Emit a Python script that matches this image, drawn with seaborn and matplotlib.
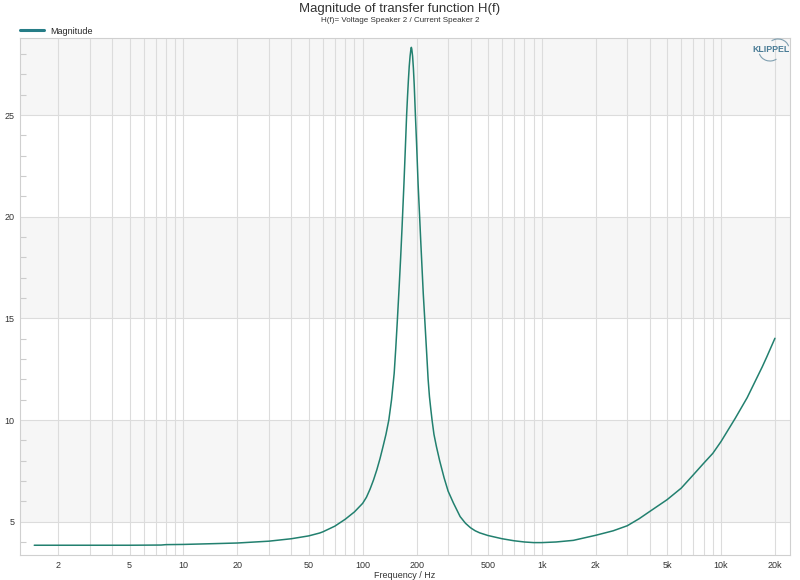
import numpy as np
import pandas as pd
import matplotlib
matplotlib.use("Agg")
import matplotlib.pyplot as plt
from matplotlib.lines import Line2D
from matplotlib.patches import Arc
from matplotlib.ticker import FixedLocator, NullFormatter, MultipleLocator
import seaborn as sns

# ---- data ----
freq_hz = [1.47, 2, 3, 5, 7.5, 8, 10, 15, 20, 30, 40, 50, 57.5, 60, 70, 80, 90,
           100, 105, 110, 115, 120, 125, 130, 135, 140, 145, 150, 153, 156, 160,
           163, 166, 170, 173, 176, 178, 180, 182, 184, 186, 187, 188, 190, 192,
           194, 197, 200, 204, 208, 211, 215, 218, 222, 228, 232, 236, 240, 244,
           250, 258, 269, 285, 300, 321, 350, 375, 400, 425, 450, 500, 600, 700,
           800, 900, 1000, 1200, 1500, 2000, 2500, 3000, 3500, 4000, 5000, 6000,
           7000, 8000, 9000, 10000, 12000, 14000, 15000, 17000, 18000, 20000]
magnitude = [3.84, 3.84, 3.84, 3.84, 3.85, 3.87, 3.88, 3.92, 3.95, 4.04, 4.16,
             4.30, 4.44, 4.50, 4.78, 5.12, 5.48,
             5.90, 6.20, 6.60, 7.05, 7.55, 8.10, 8.70, 9.30, 10.0, 11.0, 12.3, 13.5,
             14.8, 16.6, 18.0, 19.5, 21.6, 23.3, 25.0, 25.9, 26.7, 27.4, 27.9,
             28.25, 28.33, 28.25, 27.9, 27.3, 26.5, 25.0, 23.6, 21.6, 20.0, 18.8,
             17.3, 16.2, 15.0, 13.2, 12.0, 11.15, 10.55, 10.0, 9.3, 8.7, 8.0, 7.15,
             6.50, 5.92, 5.25, 4.92, 4.70, 4.55, 4.45, 4.32, 4.16, 4.06, 4.00,
             3.97, 3.97, 4.00, 4.08, 4.33, 4.55, 4.80, 5.15, 5.50, 6.08, 6.65,
             7.30, 7.87, 8.36, 8.94, 10.08, 11.10, 11.64, 12.62, 13.10, 14.02]
xtick_values = [2, 5, 10, 20, 50, 100, 200, 500, 1000, 2000, 5000, 10000, 20000]
xtick_labels = ["2", "5", "10", "20", "50", "100", "200", "500", "1k", "2k", "5k", "10k", "20k"]
ytick_values = [5, 10, 15, 20, 25]
series_name = "Magnitude"

df = pd.DataFrame({"Frequency": freq_hz, "Magnitude": magnitude})

sns.set_theme(style="white")
plt.rcParams["font.family"] = ["Liberation Sans", "DejaVu Sans"]

fig = plt.figure(figsize=(8, 5.8), dpi=100)
ax = fig.add_axes([20 / 800, 1 - 555 / 580, 770 / 800, 517 / 580])

line_color = "#22806f"
ymin, ymax = 3.36, 28.79
ax.set_xscale("log")
ax.set_xlim(1.224, 24270)
ax.set_ylim(ymin, ymax)

# alternating background bands
band_edges = [ymin] + ytick_values + [ymax]
for i in range(len(band_edges) - 1):
    if i % 2 == 1:
        ax.axhspan(band_edges[i], band_edges[i + 1], color="#f6f6f6", zorder=0, lw=0)

sns.lineplot(data=df, x="Frequency", y="Magnitude", ax=ax, color=line_color,
             linewidth=1.1, zorder=3, legend=False)

# grid
minor = []
for dec in [1, 10, 100, 1000, 10000]:
    for m in range(1, 10):
        v = m * dec
        if 1.224 < v < 24270:
            minor.append(v)
ax.xaxis.set_major_locator(FixedLocator(xtick_values))
ax.xaxis.set_minor_locator(FixedLocator(minor))
ax.set_xticklabels(xtick_labels)
ax.xaxis.set_minor_formatter(NullFormatter())
ax.grid(which="both", axis="x", color="#dcdcdc", lw=0.8, zorder=1)
ax.yaxis.set_major_locator(FixedLocator(ytick_values))
ax.yaxis.set_minor_locator(MultipleLocator(1))
ax.grid(which="major", axis="y", color="#dcdcdc", lw=0.8, zorder=1)
ax.set_axisbelow(True)

ax.tick_params(axis="x", which="major", labelsize=6.5, colors="#333333", length=0, pad=4)
ax.tick_params(axis="x", which="minor", length=0)
ax.tick_params(axis="y", which="major", labelsize=6.5, colors="#333333", length=0, pad=4)
ax.tick_params(axis="y", which="minor", length=4, direction="in", color="#cccccc", width=0.8, left=True)
ax.tick_params(axis="y", which="major", left=True)

for s in ax.spines.values():
    s.set_color("#d0d0d0")
    s.set_linewidth(0.8)

ax.set_xlabel("Frequency / Hz", fontsize=6.5, color="#333333", labelpad=1)
ax.set_ylabel("")

fig.text(0.5, 1 - 9 / 580, "Magnitude of transfer function H(f)", ha="center", va="center",
         fontsize=9.5, color="#333333")
fig.text(0.5, 1 - 21 / 580, "H(f)= Voltage Speaker 2 / Current Speaker 2", ha="center",
         va="center", fontsize=5.8, color="#333333")

handle = Line2D([0], [0], color="#267d87", lw=2.2)
fig.legend([handle], [series_name], loc="center left", bbox_to_anchor=(20 / 800, 1 - 31 / 580),
           frameon=False, fontsize=6.5, handlelength=2.7, handletextpad=0.6,
           borderaxespad=0, borderpad=0)

fig.text(771 / 800, 1 - 50 / 580, "KLIPPEL", ha="center", va="center", fontsize=6.3,
         color="#4a7c96", fontweight="bold")
fig.add_artist(Arc((778 / 800, 1 - 49 / 580), 22 / 800, 20 / 580, theta1=20, theta2=120,
                   color="#7f9fb0", lw=0.8, transform=fig.transFigure))
fig.add_artist(Arc((770 / 800, 1 - 51 / 580), 22 / 800, 20 / 580, theta1=200, theta2=300,
                   color="#7f9fb0", lw=0.8, transform=fig.transFigure))

fig.savefig("out.png", dpi=100, facecolor="white")
